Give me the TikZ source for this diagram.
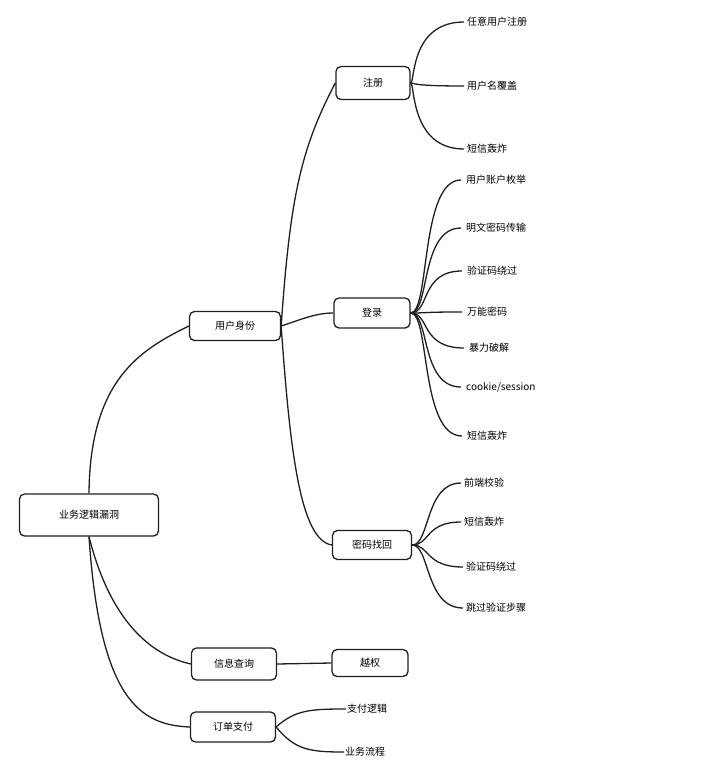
\documentclass[tikz,border=0pt]{standalone}
\usepackage{fontspec}
\setmainfont{Noto Sans CJK SC}
\begin{document}
\begin{tikzpicture}[x=1pt,y=-1pt,
  box/.style={draw=black!88,line width=1.3pt,rounded corners=5pt,font=\fontsize{10}{12}\selectfont,inner sep=0pt},
  leaf/.style={font=\fontsize{10}{12}\selectfont,inner sep=1pt,anchor=west},
  ln/.style={draw=black!88,line width=1.3pt}]
\useasboundingbox (0,0) rectangle (701,783);
\node[box,minimum width=139pt,minimum height=42pt] (root) at (89,515) {业务逻辑漏洞};
\node[box,minimum width=91pt,minimum height=29pt] (sf) at (235,326) {用户身份};
\node[box,minimum width=85pt,minimum height=32pt] (cx) at (234,664) {信息查询};
\node[box,minimum width=85pt,minimum height=30pt] (dd) at (233,727) {订单支付};
\node[box,minimum width=74pt,minimum height=33pt] (zc) at (373,83) {注册};
\node[box,minimum width=76pt,minimum height=30pt] (dl) at (372,313) {登录};
\node[box,minimum width=79pt,minimum height=29pt] (mm) at (372,545) {密码找回};
\node[box,minimum width=76pt,minimum height=27pt] (yq) at (370,663) {越权};
% leaves
\node[leaf] (a1) at (466,22) {任意用户注册};
\node[leaf] (a2) at (466,86) {用户名覆盖};
\node[leaf] (a3) at (466,149) {短信轰炸};
\node[leaf] (b1) at (465,180) {用户账户枚举};
\node[leaf] (b2) at (465,228) {明文密码传输};
\node[leaf] (b3) at (466,271) {验证码绕过};
\node[leaf] (b4) at (466,312) {万能密码};
\node[leaf] (b5) at (468,348) {暴力破解};
\node[leaf] (b6) at (465,387) {cookie/session};
\node[leaf] (b7) at (466,436) {短信轰炸};
\node[leaf] (c1) at (463,483) {前端校验};
\node[leaf] (c2) at (463,522) {短信轰炸};
\node[leaf] (c3) at (465,567) {验证码绕过};
\node[leaf] (c4) at (465,608) {跳过验证步骤};
\node[leaf] (d1) at (346,709) {支付逻辑};
\node[leaf] (d2) at (344,752) {业务流程};
% root connectors
\draw[ln] (root.north) .. controls (90,380) and (140,350) .. (sf.west);
\draw[ln] (root.south) .. controls (110,620) and (150,655) .. (cx.west);
\draw[ln] (root.south) .. controls (100,700) and (140,725) .. (dd.west);
\draw[ln] (sf.east) .. controls (290,200) and (300,150) .. (zc.west);
\draw[ln] (sf.east) .. controls (300,320) and (315,313) .. (dl.west);
\draw[ln] (sf.east) .. controls (290,450) and (300,540) .. (mm.west);
\draw[ln] (cx.east) -- (yq.west);
\draw[ln] (dd.east) .. controls (295,710) and (310,709) .. (d1.west);
\draw[ln] (dd.east) .. controls (295,750) and (310,752) .. (d2.west);
% zc leaves
\foreach \n in {a1,a2,a3}
  \draw[ln] (zc.east) .. controls (415,83) and (410,0 |- \n.west) .. ([xshift=-2pt]\n.west);
\foreach \n in {b1,b2,b3,b4,b5,b6,b7}
  \draw[ln] (dl.east) .. controls (430,313) and (420,0 |- \n.west) .. ([xshift=-4pt]\n.west);
\foreach \n in {c1,c2,c3,c4}
  \draw[ln] (mm.east) .. controls (430,545) and (425,0 |- \n.west) .. ([xshift=-2pt]\n.west);
\end{tikzpicture}
\end{document}
